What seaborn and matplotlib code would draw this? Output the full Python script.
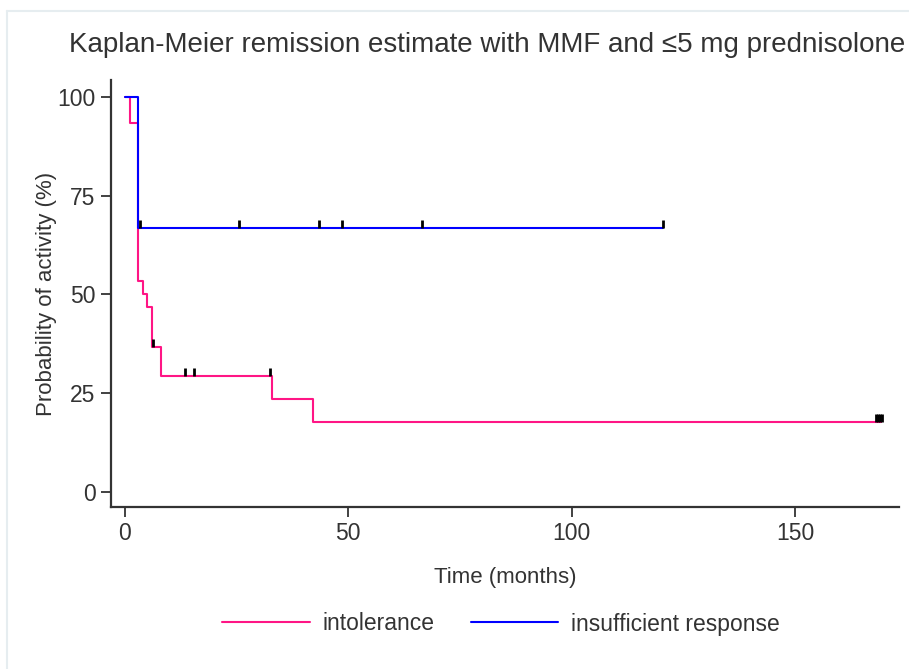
import matplotlib
matplotlib.use("Agg")
import matplotlib.pyplot as plt
from matplotlib.lines import Line2D
import numpy as np
import pandas as pd
import seaborn as sns

# dane (czas w miesiacach, prawdopodobienstwo w %)
groups = ["intolerance", "insufficient response"]
colors = ["#ff1585", "#0000ff"]

intol_time = [0, 1.1, 3.0, 4.0, 5.0, 6.0, 8.0, 33.0, 42.1, 169.3]
intol_surv = [100, 93.3, 53.3, 50.0, 46.7, 36.7, 29.4, 23.5, 17.6, 17.6]
intol_cens_time = [6.4, 13.4, 15.4, 32.5, 168.2, 168.6, 169.0, 169.4]
intol_cens_surv = [36.7, 29.4, 29.4, 29.4, 17.6, 17.6, 17.6, 17.6]

insuf_time = [0, 3.05, 120.4]
insuf_surv = [100, 66.7, 66.7]
insuf_cens_time = [3.5, 25.5, 43.4, 48.6, 66.5, 120.4]
insuf_cens_surv = [66.7, 66.7, 66.7, 66.7, 66.7, 66.7]

x_ticks = [0, 50, 100, 150]
y_ticks = [0, 25, 50, 75, 100]

df = pd.concat([
    pd.DataFrame({"time": intol_time, "surv": intol_surv, "group": groups[0]}),
    pd.DataFrame({"time": insuf_time, "surv": insuf_surv, "group": groups[1]}),
])
cens = pd.concat([
    pd.DataFrame({"time": intol_cens_time, "surv": intol_cens_surv}),
    pd.DataFrame({"time": insuf_cens_time, "surv": insuf_cens_surv}),
])

sns.set_style("white")
plt.rcParams["font.family"] = ["Liberation Sans", "DejaVu Sans"]
text_col = "#333333"

fig = plt.figure(figsize=(9.09, 6.69), dpi=100)
ax = fig.add_axes([111 / 909, 1 - 507 / 669, 788 / 909, 427 / 669])

sns.lineplot(data=df, x="time", y="surv", hue="group", palette=colors,
             estimator=None, sort=False, drawstyle="steps-post",
             linewidth=1.5, ax=ax, legend=True)

# znaczniki cenzurowania
ax.vlines(cens["time"], cens["surv"], cens["surv"] + 2.0, color="black",
          linewidth=2, zorder=5)

ax.set_xlim(-3.1, 173.3)
ax.set_ylim(-3.9, 104.3)
ax.set_xticks(x_ticks)
ax.set_yticks(y_ticks)
ax.tick_params(axis="both", direction="out", length=7, width=1.3,
               color=text_col, labelsize=16.5, labelcolor=text_col, pad=4,
               bottom=True, left=True)
sns.despine(ax=ax)
for s in ["left", "bottom"]:
    ax.spines[s].set_color(text_col)
    ax.spines[s].set_linewidth(1.6)

ax.set_xlabel("Time (months)", fontsize=16, color=text_col, labelpad=16)
ax.set_ylabel("Probability of activity (%)", fontsize=16, color=text_col,
              labelpad=0)

handles, labels = ax.get_legend_handles_labels()
ax.get_legend().remove()
fig.legend(handles, labels, loc="center", bbox_to_anchor=(501 / 909, 1 - 624 / 669),
           ncol=2, frameon=False, fontsize=16.5, handlelength=3.8,
           handletextpad=0.57, columnspacing=1.57, labelcolor=text_col)

fig.text(487 / 909, 1 - 45 / 669,
         "Kaplan-Meier remission estimate with MMF and \u22645 mg prednisolone",
         ha="center", va="center", fontsize=20, color=text_col)

# cienka ramka strony
fig.add_artist(Line2D([7 / 909, 1], [1 - 11 / 669, 1 - 11 / 669],
                      transform=fig.transFigure, color="#e6edf0", linewidth=1.5))
fig.add_artist(Line2D([7 / 909, 7 / 909], [0, 1 - 11 / 669],
                      transform=fig.transFigure, color="#e6edf0", linewidth=1.5))

fig.savefig("out.png", dpi=100)
